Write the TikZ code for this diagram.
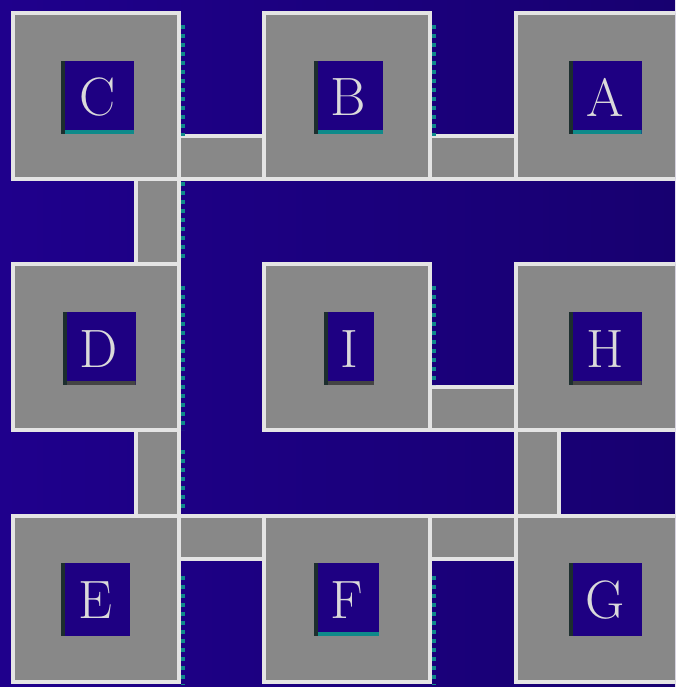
\documentclass[tikz,border=0pt]{standalone}
\usetikzlibrary{arrows.meta, positioning}
\definecolor{floorblue}{HTML}{1F008C}
\definecolor{floorblue2}{HTML}{170070}
\definecolor{roomgray}{HTML}{888888}
\definecolor{wallwhite}{HTML}{E4E4E4}
\definecolor{lipteal}{HTML}{0E8A8A}
\definecolor{lipdark}{HTML}{1C2E2E}
\definecolor{lipgray}{HTML}{444444}
\definecolor{boxblue}{HTML}{1E0082}
\definecolor{inkwhite}{HTML}{DADADA}

\begin{document}
\begin{tikzpicture}[
      room/.style={draw=wallwhite, fill=roomgray, line width=4.5pt, minimum size=166pt, inner sep=0pt, outer sep=0pt},
      hall/.style={draw=wallwhite, fill=roomgray, line width=4.5pt},
      plate/.style={fill=boxblue, minimum width=73pt, minimum height=73pt, inner sep=0pt, outer sep=0pt,
        text=inkwhite, font=\fontsize{54}{54}\selectfont,
        path picture={
          \fill[lipdark] (path picture bounding box.south west) rectangle ([xshift=4pt]path picture bounding box.north west);
          \fill[#1] ([xshift=4pt]path picture bounding box.south west) rectangle ([yshift=4pt]path picture bounding box.south east);
        }},
      plate/.default=lipteal,
      rivets/.style={draw=lipteal, line width=3.5pt, dash pattern=on 4pt off 5pt}
    ]

    \useasboundingbox (0,0) rectangle (675pt,687pt);
    \clip (0,0) rectangle (675pt,687pt);
    \shade[left color=floorblue, right color=floorblue2] (0,0) rectangle (675pt,687pt);

    \node[room] (c) at (96pt, 591pt) {};
    \node[room] (b) at (347pt, 591pt) {};
    \node[room] (a) at (599pt, 591pt) {};
    \node[room] (d) at (96pt, 340pt) {};
    \node[room] (i) at (347pt, 340pt) {};
    \node[room] (h) at (599pt, 340pt) {};
    \node[room] (e) at (96pt, 88pt) {};
    \node[room] (f) at (347pt, 88pt) {};
    \node[room] (g) at (599pt, 88pt) {};

    \draw[hall] (c.south east) rectangle ([yshift=43pt]b.south west);
    \draw[hall] (b.south east) rectangle ([yshift=43pt]a.south west);
    \draw[hall] (c.south east) rectangle ([xshift=-43pt]d.north east);
    \draw[hall] (i.south east) rectangle ([yshift=43pt]h.south west);
    \draw[hall] (d.south east) rectangle ([xshift=-43pt]e.north east);
    \draw[hall] (h.south west) rectangle ([xshift=43pt]g.north west);
    \draw[hall] (e.north east) rectangle ([yshift=-43pt]f.north west);
    \draw[hall] (f.north east) rectangle ([yshift=-43pt]g.north west);

    \node[plate] (cname) at (97.5pt, 589.5pt) {C};
    \node[plate, minimum width=69pt] (bname) at (348.5pt, 589.5pt) {B};
    \node[plate] (aname) at (605pt, 589.5pt) {A};
    \node[plate=lipgray] (dname) at (99pt, 338pt) {D};
    \node[plate=lipgray, minimum width=50pt] (iname) at (349pt, 338pt) {I};
    \node[plate=lipgray] (hname) at (605pt, 338pt) {H};
    \node[plate=boxblue, minimum width=69pt] (ename) at (95.5pt, 87pt) {E};
    \node[plate, minimum width=65pt] (fname) at (346.5pt, 87pt) {F};
    \node[plate=boxblue] (gname) at (605pt, 87pt) {G};

    \draw[rivets] ([xshift=4pt, yshift=-12pt]c.north east) -- ([xshift=4pt, yshift=43pt]c.south east);
    \draw[rivets] ([xshift=4pt, yshift=-3pt]c.south east) -- ([xshift=4pt, yshift=6pt]d.north east);
    \draw[rivets] ([xshift=4pt, yshift=-22pt]d.north east) -- ([xshift=4pt]d.south east);
    \draw[rivets] ([xshift=4pt, yshift=-20pt]d.south east) -- ([xshift=4pt, yshift=5pt]e.north east);
    \draw[rivets] ([xshift=4pt, yshift=-60pt]e.north east) -- ([xshift=4pt, yshift=-3pt]e.south east);
    \draw[rivets] ([xshift=4pt, yshift=-12pt]b.north east) -- ([xshift=4pt, yshift=43pt]b.south east);
    \draw[rivets] ([xshift=4pt, yshift=-22pt]i.north east) -- ([xshift=4pt, yshift=45pt]i.south east);
    \draw[rivets] ([xshift=4pt, yshift=-60pt]f.north east) -- ([xshift=4pt, yshift=-3pt]f.south east);

  \end{tikzpicture}
\end{document}
